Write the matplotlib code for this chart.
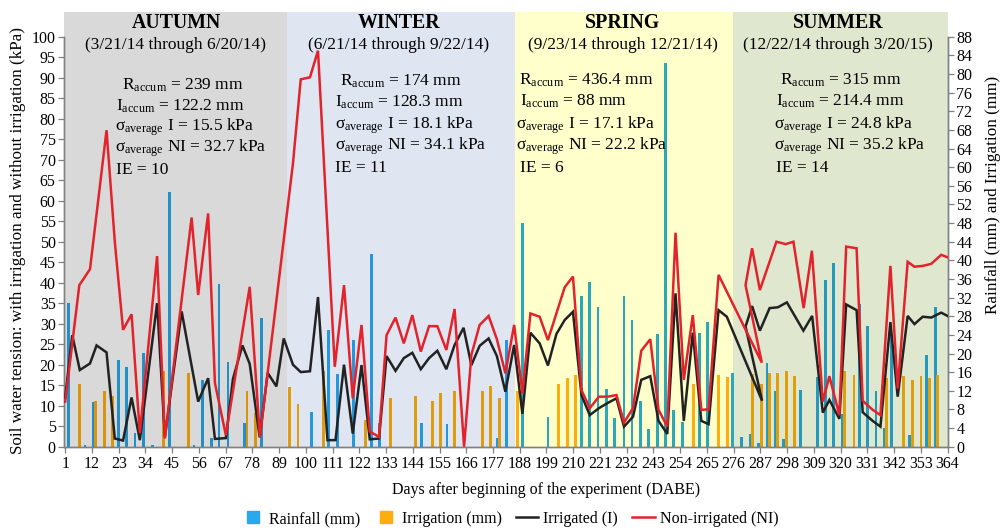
import numpy as np
import matplotlib
matplotlib.use('Agg')
import matplotlib.pyplot as plt
from matplotlib.patches import Rectangle
from matplotlib.lines import Line2D
from matplotlib.colors import to_rgb

plt.rcParams['font.family'] = ['Liberation Serif', 'DejaVu Serif']
plt.rcParams['mathtext.fontset'] = 'custom'
plt.rcParams['mathtext.rm'] = 'Liberation Serif'
plt.rcParams['mathtext.it'] = 'Liberation Serif:italic'

# ---------------- data ----------------
# Non-irrigated soil water tension (kPa)
ni_day = [1, 6.8, 11.2, 18.0, 21.4, 24.8, 28.3, 31.7, 38.8, 42.0, 53.0, 55.7, 59.8, 62.6,
          67.1, 73.9, 76.9, 81.1, 94.7, 97.9, 101.7, 105.0, 111.9, 115.7, 119.3, 122.9,
          126.3, 130.1, 133.2, 136.9, 140.3, 143.8, 147.3, 150.7, 154.1, 157.8, 161.2,
          165.1, 168.1, 171.5, 175.2, 178.6, 182.1, 185.7, 189.1, 192.4, 196.2, 199.6,
          206.5, 209.9, 213.4, 216.8, 220.6, 224.3, 227.8, 230.9, 234.6, 238.0, 241.7,
          245.1, 248.7, 252.1, 255.5, 259.2, 262.7, 265.7, 269.8, 287.6,
          280.9, 283.6, 286.8, 293.6, 297.4, 300.6, 304.8, 308.2, 312.7, 315.4, 319.5,
          322.3, 326.6, 329.1, 333.2, 336.4, 340.5, 343.5, 347.6, 350.4, 353.8, 357.3,
          361.4, 364.0]
ni_kpa = [11.0, 39.4, 43.3, 77.2, 50.0, 28.5, 32.3, 3.3, 46.5, 2.0, 55.9, 37.0, 56.9, 15.5,
          2.8, 28.0, 39.0, 2.3, 69.1, 89.6, 90.1, 96.6, 19.5, 39.4, 11.8, 29.7,
          3.7, 2.4, 27.2, 31.5, 25.2, 32.1, 23.2, 29.4, 29.4, 23.6, 33.6,
          0.0, 22.4, 29.7, 31.9, 26.2, 17.9, 29.7, 13.0, 32.5, 31.7, 26.0,
          38.9, 41.5, 13.8, 9.4, 12.2, 12.2, 12.6, 5.9, 9.4, 23.4, 26.2,
          9.0, 4.9, 52.2, 16.3, 32.1, 9.0, 9.1, 41.9, 20.5,
          39.4, 48.4, 38.2, 50.0, 49.4, 50.0, 33.8, 47.8, 11.0, 17.2, 7.7,
          48.8, 48.4, 11.2, 9.0, 7.7, 44.1, 14.2, 45.1, 43.9, 44.1, 44.6,
          46.8, 46.2]

# Irrigated soil water tension (kPa)
i_day = [1, 3.9, 7.0, 11.2, 13.9, 18.0, 21.4, 24.8, 28.3, 31.7, 38.8, 42.0, 48.9, 55.7,
         59.8, 62.6, 67.1, 70.0, 73.9, 76.9, 81.0, 84.3, 87.9, 90.9, 94.7, 97.9, 101.7,
         105.0, 108.9, 112.2, 115.7, 119.3, 122.9, 126.3, 130.1, 133.2, 136.9, 140.3,
         143.8, 147.3, 150.7, 154.1, 157.8, 161.2, 164.9, 168.1, 171.5, 175.2, 178.6,
         182.1, 185.7, 189.1, 192.4, 196.2, 199.6, 203.1, 206.5, 209.9, 213.4, 216.8,
         220.6, 224.3, 227.8, 230.9, 234.6, 238.0, 241.7, 245.1, 248.7, 252.1, 255.5,
         259.2, 262.7, 265.7, 269.8, 273.2, 287.7,
         280.9, 283.6, 286.8, 290.8, 294.2, 297.9, 304.7, 308.3, 312.7, 315.4, 319.5,
         322.3, 326.6, 329.1, 333.2, 336.4, 340.5, 343.5, 347.6, 350.4, 353.8, 357.3,
         361.4, 364.0]
i_kpa = [12.0, 27.2, 18.7, 20.3, 24.7, 23.0, 2.0, 1.5, 12.0, 1.6, 35.0, 2.4, 33.0, 11.0,
         16.7, 1.9, 2.1, 16.5, 24.7, 20.2, 2.3, 18.0, 14.7, 26.4, 20.0, 18.2, 18.4,
         36.5, 1.6, 1.6, 20.0, 3.2, 19.9, 1.8, 2.0, 22.1, 18.5, 21.6,
         22.9, 18.9, 21.6, 23.4, 18.9, 24.8, 29.0, 19.9, 24.6, 26.4, 22.1,
         13.4, 24.8, 8.0, 27.8, 25.2, 19.8, 27.5, 30.9, 32.9, 12.6, 7.7,
         9.4, 10.7, 11.8, 4.9, 7.3, 16.3, 17.2, 6.3, 3.1, 37.4, 6.3,
         27.8, 6.3, 5.5, 33.3, 31.7, 11.2,
         29.3, 34.3, 28.3, 33.8, 34.0, 35.2, 28.3, 31.9, 8.3, 11.4, 6.8,
         34.7, 33.3, 8.4, 6.3, 4.9, 30.4, 12.2, 31.9, 29.9, 31.7, 31.5,
         32.7, 31.9]

# Rainfall (mm)
rain_day = [2.2, 9.1, 12.5, 22.8, 26.2, 29.7, 33.1, 36.8, 43.8, 54.0, 57.5, 61.2, 64.3,
            68.0, 74.9, 81.8, 102.3, 109.4, 113.0, 119.7, 127.0, 130.2, 147.6, 158.1,
            178.8, 182.5, 189.1, 199.6, 213.4, 216.8, 220.2, 223.6, 227.0, 230.9, 234.2,
            237.6, 241.1, 244.6, 248.0, 251.4, 255.1, 262.0, 265.4, 275.7, 279.4, 283.0,
            286.2, 289.7, 293.1, 296.6, 303.5, 310.4, 313.8, 317.2, 320.7, 327.8, 331.2,
            334.6, 338.1, 341.0, 348.3, 355.2, 358.9]
rain_mm = [30.8, 0.4, 9.5, 18.6, 17.0, 2.9, 20.2, 0.4, 54.7, 0.4, 14.3, 1.9, 34.9,
           18.2, 5.0, 27.6, 7.5, 25.0, 15.7, 22.9, 41.3, 5.0, 5.0, 4.9,
           1.9, 23.0, 48.1, 6.3, 32.4, 35.3, 29.9, 12.3, 6.1, 32.4, 27.3,
           9.9, 3.7, 24.2, 82.4, 7.9, 5.4, 24.5, 26.8, 15.9, 2.1, 2.7,
           0.9, 17.9, 12.0, 1.6, 12.2, 15.0, 35.8, 39.4, 7.0, 30.6, 25.8,
           12.0, 4.0, 24.0, 2.5, 19.7, 29.9]

# Irrigation (mm)
irr_day = [6.8, 13.6, 17.0, 20.5, 41.3, 51.6, 75.8, 79.4, 93.3, 96.8, 107.4, 124.5, 134.9,
           145.2, 152.1, 155.5, 161.3, 172.6, 176.0, 179.7, 187.0, 204.1, 207.6, 210.9,
           259.6, 269.9, 273.4, 283.9, 287.4, 290.8, 294.2, 297.6, 301.0, 321.6, 325.5,
           339.0, 345.8, 349.7, 353.1, 356.6, 359.9]
irr_mm = [13.5, 9.9, 12.0, 10.9, 16.3, 15.9, 12.0, 7.2, 12.9, 9.2, 16.3, 5.7, 10.4,
          10.9, 9.8, 11.5, 12.0, 12.0, 13.0, 10.4, 12.0, 13.5, 14.7, 15.4,
          13.5, 15.4, 15.0, 15.7, 13.5, 15.9, 15.9, 16.2, 15.2, 16.2, 15.4,
          14.7, 15.2, 14.3, 15.2, 14.7, 15.4]

seasons = ['AUTUMN', 'WINTER', 'SPRING', 'SUMMER']
season_dates = ['(3/21/14 through 6/20/14)', '(6/21/14 through 9/22/14)',
                '(9/23/14 through 12/21/14)', '(12/22/14 through 3/20/15)']
season_edges = [0.5, 92.3, 186.0, 275.7, 364.2]
r_accum = ['239', '174', '436.4', '315']
i_accum = ['122.2', '128.3', '88', '214.4']
sigma_i = ['15.5', '18.1', '17.1', '24.8']
sigma_ni = ['32.7', '34.1', '22.2', '35.2']
ie_vals = ['10', '11', '6', '14']

xtick_labels = list(range(1, 365, 11))

# ---------------- style ----------------
W, H = 1003, 529
season_bg = ['#D9D9D9', '#DFE6F1', '#FFFFCC', '#DFE8CE']
rain_base = (0.16, 0.66, 0.92)
irr_base = (1.0, 0.68, 0.05)
red = '#E3232B'
black = '#222222'
axis_col = '#808080'

fig = plt.figure(figsize=(W / 100, H / 100), dpi=100)
ax_left, ax_right, ax_bottom, ax_top = 64, 948, 446.7, 36.7
ax = fig.add_axes([ax_left / W, 1 - ax_bottom / H, (ax_right - ax_left) / W,
                   (ax_bottom - ax_top) / H])
ax2 = ax.twinx()
ax.set_zorder(ax2.get_zorder() + 1)
ax.patch.set_visible(False)
ax2.patch.set_visible(False)

xmin, xmax = season_edges[0], season_edges[-1]
ax.set_xlim(xmin, xmax)
ax2.set_xlim(xmin, xmax)
ax.set_ylim(0, 100)
ax2.set_ylim(0, 88)

# season backgrounds (extend above plot area), drawn on the lower (bar) axes
top_extra = 88 * (1 + (ax_top - 12) / (ax_bottom - ax_top))
for k in range(4):
    ax2.add_patch(Rectangle((season_edges[k], 0), season_edges[k + 1] - season_edges[k],
                            top_extra, facecolor=season_bg[k], edgecolor='none',
                            zorder=0, clip_on=False))


def mult(base, days):
    idx = np.clip(np.searchsorted(season_edges, days) - 1, 0, 3)
    return [tuple(np.array(base) * np.array(to_rgb(season_bg[i]))) for i in idx]


bw = 1.15
ax2.bar(rain_day, rain_mm, width=bw, color=mult(rain_base, rain_day), zorder=2)
ax2.bar(irr_day, irr_mm, width=bw, color=mult(irr_base, irr_day), zorder=2)

ax.plot(i_day, i_kpa, color=black, lw=1.8, zorder=3, solid_joinstyle='miter')
ax.plot(ni_day, ni_kpa, color=red, lw=1.8, zorder=4, solid_joinstyle='miter')

# axes formatting
ax.set_xticks(xtick_labels)
ax.set_xticklabels([str(v) for v in xtick_labels], fontsize=11.5)
ax.set_yticks(np.arange(0, 101, 5))
ax.set_yticklabels([str(v) for v in range(0, 101, 5)], fontsize=11.5)
ax2.set_yticks(np.arange(0, 89, 4))
ax2.set_yticklabels([str(v) for v in range(0, 89, 4)], fontsize=11.5)
for a in (ax, ax2):
    a.tick_params(direction='out', length=4, width=0.9, color=axis_col, pad=2)
    a.spines['top'].set_visible(False)
    for s in ('left', 'right', 'bottom'):
        a.spines[s].set_color(axis_col)
        a.spines[s].set_linewidth(1.0)
ax.tick_params(axis='x', pad=3)

fig.text(18 / W, 1 - 241 / H,
         'Soil water tension: with irrigation and without irrigation (kPa)',
         rotation=90, ha='center', va='center', fontsize=12.3)
fig.text(993 / W, 1 - 195 / H, 'Rainfall (mm) and Irrigation (mm)',
         rotation=90, ha='center', va='center', fontsize=12.3)
fig.text(546 / W, 1 - 490 / H, 'Days after beginning of the experiment (DABE)',
         ha='center', va='center', fontsize=11.5)

# season labels
title_x = [176, 399, 623, 838]
for k in range(4):
    fig.text(title_x[k] / W, 1 - 23 / H, seasons[k], ha='center', va='center',
             fontsize=14.3, fontweight='bold')
    fig.text(title_x[k] / W, 1 - 45 / H, season_dates[k], ha='center', va='center',
             fontsize=12.5)

# statistics blocks
block_x = [115, 335, 516, 774]
block_rx = [122, 340, 519, 780]
block_ix = [116, 335, 520, 776]
block_y = [[89.5, 110.5, 131, 151.5, 174],
           [86, 107, 129, 149.5, 172],
           [84.5, 106, 128.5, 149.5, 171.5],
           [84.5, 106, 128.5, 149.5, 171.5]]
fs = 12.5
for k in range(4):
    ys = block_y[k]
    fig.text(block_rx[k] / W, 1 - ys[0] / H,
             r'R$_{\mathrm{accum}}$' + ' = ' + r_accum[k] + ' mm',
             ha='left', va='baseline', fontsize=fs)
    fig.text(block_ix[k] / W, 1 - ys[1] / H,
             r'I$_{\mathrm{accum}}$' + ' = ' + i_accum[k] + ' mm',
             ha='left', va='baseline', fontsize=fs)
    fig.text(block_x[k] / W, 1 - ys[2] / H,
             'σ' + r'$_{\mathrm{average}}$' + ' I = ' + sigma_i[k] + ' kPa',
             ha='left', va='baseline', fontsize=fs)
    fig.text(block_x[k] / W, 1 - ys[3] / H,
             'σ' + r'$_{\mathrm{average}}$' + ' NI = ' + sigma_ni[k] + ' kPa',
             ha='left', va='baseline', fontsize=fs)
    fig.text(block_ix[k] / W, 1 - ys[4] / H, 'IE = ' + ie_vals[k],
             ha='left', va='baseline', fontsize=fs)

# legend
handles = [Line2D([], [], marker='s', ls='none', markersize=8, color=rain_base),
           Line2D([], [], marker='s', ls='none', markersize=8, color=irr_base),
           Line2D([], [], color=black, lw=1.8),
           Line2D([], [], color=red, lw=1.8)]
labels = ['Rainfall (mm)', 'Irrigation (mm)', 'Irrigated (I)', 'Non-irrigated (NI)']
fig.legend(handles, labels, loc='center', bbox_to_anchor=(510 / W, 1 - 519 / H),
           ncol=4, frameon=False, fontsize=11.5, handlelength=1.4,
           handletextpad=0.3, columnspacing=0.9, borderaxespad=0)

fig.savefig('out.png', dpi=100)
